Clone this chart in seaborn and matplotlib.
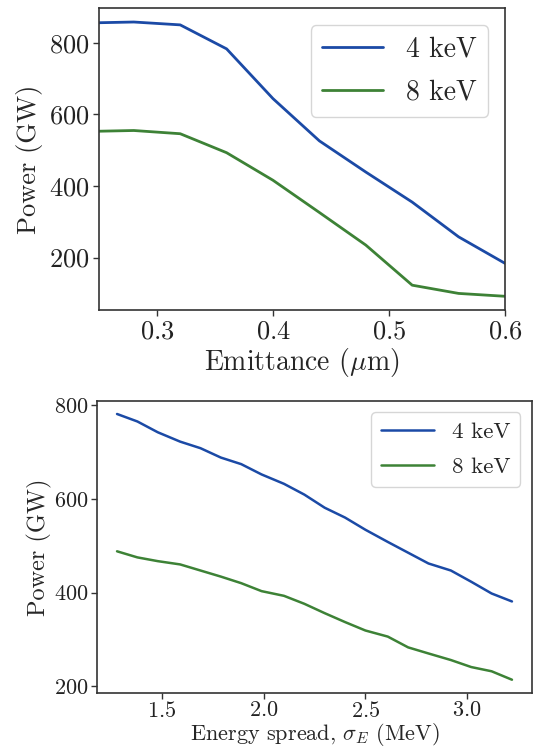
import matplotlib
matplotlib.use("Agg")
import matplotlib.pyplot as plt
import seaborn as sns
import pandas as pd

# ---- data ----
emittance = [0.25, 0.28, 0.32, 0.36, 0.40, 0.44, 0.48, 0.52, 0.56, 0.60]
emit_4kev = [856, 858, 850, 783, 644, 526, 439, 355, 258, 184]
emit_8kev = [553, 555, 546, 493, 416, 326, 235, 123, 100, 92]

espread = [1.28, 1.38, 1.48, 1.59, 1.69, 1.79, 1.89, 1.99, 2.10, 2.20,
           2.30, 2.40, 2.50, 2.61, 2.71, 2.81, 2.92, 3.02, 3.12, 3.22]
es_4kev = [781, 765, 742, 722, 708, 688, 674, 652, 632, 609,
           581, 560, 534, 508, 485, 462, 447, 423, 398, 381]
es_8kev = [488, 475, 467, 460, 447, 434, 420, 403, 393, 376,
           356, 337, 319, 306, 283, 270, 256, 241, 232, 214]

labels = ["4 keV", "8 keV"]
colors = {"4 keV": "#1b4aa6", "8 keV": "#3d8236"}

sns.set_style("ticks")
plt.rcParams["font.family"] = ["cmr10", "DejaVu Serif"]
plt.rcParams["mathtext.fontset"] = "cm"
plt.rcParams["axes.formatter.use_mathtext"] = True
plt.rcParams["axes.edgecolor"] = "#333333"
plt.rcParams["axes.linewidth"] = 1.2
plt.rcParams["xtick.color"] = "#333333"
plt.rcParams["ytick.color"] = "#333333"
plt.rcParams["xtick.labelcolor"] = "#222222"
plt.rcParams["ytick.labelcolor"] = "#222222"

df_top = pd.DataFrame({
    "x": emittance * 2,
    "y": emit_4kev + emit_8kev,
    "label": [labels[0]] * len(emittance) + [labels[1]] * len(emittance),
})
df_bot = pd.DataFrame({
    "x": espread * 2,
    "y": es_4kev + es_8kev,
    "label": [labels[0]] * len(espread) + [labels[1]] * len(espread),
})

W, H = 534, 750
fig = plt.figure(figsize=(W / 100, H / 100), dpi=100)
ax1 = fig.add_axes([99 / W, (H - 310) / H, 406 / W, 301.7 / H])
ax2 = fig.add_axes([97.3 / W, (H - 693) / H, 434.4 / W, 292.3 / H])

# top panel
sns.lineplot(data=df_top, x="x", y="y", hue="label", palette=colors,
             estimator=None, sort=False, linewidth=2.0, ax=ax1)
ax1.set_xlim(0.25, 0.6)
ax1.set_xticks([0.3, 0.4, 0.5, 0.6])
ax1.set_yticks([200, 400, 600, 800])
ax1.set_xlabel(r"Emittance ($\mu$m)", fontsize=20, labelpad=2)
ax1.set_ylabel("Power (GW)", fontsize=19, labelpad=4)
ax1.tick_params(labelsize=19, length=4, width=1, pad=3)
ax1.legend(title=None, fontsize=20, loc="upper right", handlelength=2.2,
           handletextpad=0.85, labelspacing=0.6, borderpad=0.4,
           borderaxespad=0.6)

# bottom panel
sns.lineplot(data=df_bot, x="x", y="y", hue="label", palette=colors,
             estimator=None, sort=False, linewidth=1.8, ax=ax2)
ax2.set_xticks([1.5, 2.0, 2.5, 3.0])
ax2.set_yticks([200, 400, 600, 800])
ax2.set_xlabel(r"Energy spread, $\sigma_E$ (MeV)", fontsize=16, labelpad=0.3)
ax2.set_ylabel("Power (GW)", fontsize=17.5, labelpad=2)
ax2.tick_params(axis="x", labelsize=16, length=4, width=1, pad=1.5)
ax2.tick_params(axis="y", labelsize=16, length=4, width=1, pad=2)
ax2.legend(title=None, fontsize=16.5, loc="upper right", handlelength=2.3,
           handletextpad=0.8, labelspacing=0.67, borderpad=0.42,
           borderaxespad=0.5)

fig.savefig("out.png", dpi=100)
